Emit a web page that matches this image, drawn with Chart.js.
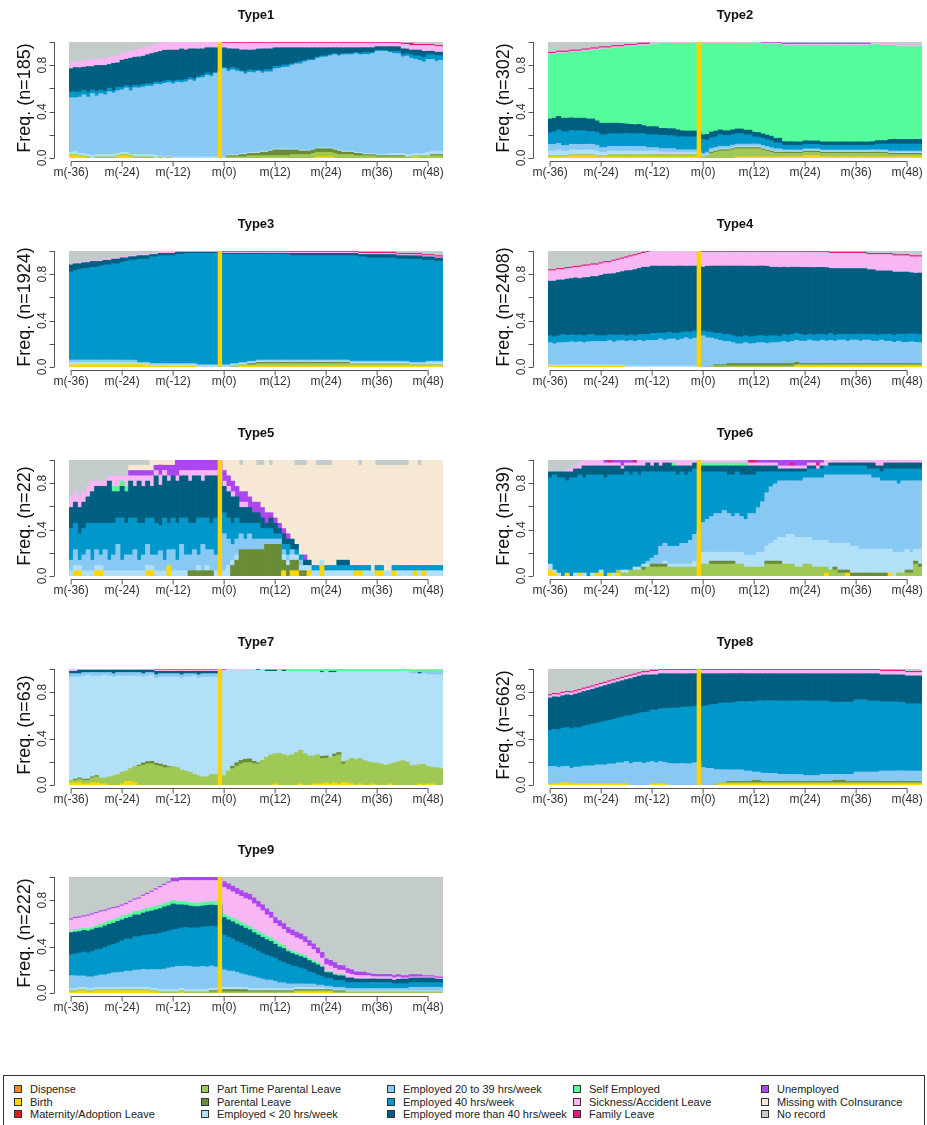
<!DOCTYPE html>
<html>
<head>
<meta charset="utf-8">
<script src="https://cdn.jsdelivr.net/npm/chart.js@4.4.1/dist/chart.umd.min.js"></script>
<style>
  body { margin: 0; background: #fff; width: 927px; height: 1125px; position: relative; overflow: hidden; font-family: "Liberation Sans", Arial, sans-serif; }
  canvas.panel { position: absolute; }
  #legend { position: absolute; left: 3px; top: 1075px; width: 922px; height: 60px; border: 1px solid #333; box-sizing: border-box; }
  .item { position: absolute; font-size: 11px; color: #222; line-height: 12px; white-space: nowrap; }
  .item i { position: absolute; left: -16px; top: 2px; width: 6px; height: 6px; border: 1px solid #333; }
</style>
</head>
<body>
<div id="legend"></div>
<script>
// months on the x axis, m(-36) .. m(51)
const months = [-36,-35,-34,-33,-32,-31,-30,-29,-28,-27,-26,-25,-24,-23,-22,-21,-20,-19,-18,-17,-16,-15,-14,-13,-12,-11,-10,-9,-8,-7,-6,-5,-4,-3,-2,-1,0,1,2,3,4,5,6,7,8,9,10,11,12,13,14,15,16,17,18,19,20,21,22,23,24,25,26,27,28,29,30,31,32,33,34,35,36,37,38,39,40,41,42,43,44,45,46,47,48,49,50,51];
const xTicks = [-36,-24,-12,0,12,24,36,48];
const yTicks = [0,0.2,0.4,0.6,0.8,1];
const yLabels = [0,0.4,0.8];
const markMonth = -1;

const stateKeys = ['dis','bir','mat','ptp','par','e20','e39','e40','e41','self','sick','fam','unemp','miss','norec'];
const stateNames = ['Dispense','Birth','Maternity/Adoption Leave','Part Time Parental Leave','Parental Leave','Employed < 20 hrs/week','Employed 20 to 39 hrs/week','Employed 40 hrs/week','Employed more than 40 hrs/week','Self Employed','Sickness/Accident Leave','Family Leave','Unemployed','Missing with CoInsurance','No record'];
const stateColors = ['#F28A1E','#FFD700','#E31A1C','#9FC855','#6B8C37','#B1E0F8','#88C9F4','#0097CA','#005F80','#55FC9B','#F8B6F5','#E4197C','#AC46EF','#F6E8D5','#C3CBCB'];

// shares (%) per month
// Type1
const t1_bir = [2,2,1,1,0,0,0,0,0,0,0,1, 2,2,1,0,0,0,0,0,0,0,0,0, 0,0,0,0,0,0,0,0,0,0,0,0, 0,0,0,0,0,0,0,0,0,0,0,0, 0,0,0,0,0,0,0,0,0,0,1,1, 1,1,0,0,0,0,0,0,0,0,0,0, 0,0,0,0,0,0,0,0,0,1,0,0, 0,0,0,0];
const t1_ptp = [1,1,1,1,1,0,1,1,1,1,1,1, 1,1,1,1,1,1,1,1,0,1,0,1, 0,0,0,0,0,0,0,0,0,0,0,0, 0,1,1,1,1,1,2,2,2,2,2,2, 2,2,2,2,3,3,3,3,3,4,4,4, 4,4,4,3,3,3,3,2,2,2,2,2, 1,1,1,1,1,1,1,1,1,1,2,2, 2,2,2,2];
const t1_par = [0,0,0,0,0,0,0,0,0,0,0,0, 0,0,0,0,0,0,0,0,0,0,0,0, 0,0,0,0,0,0,0,0,0,0,0,0, 0,1,1,1,2,2,2,2,2,3,3,4, 5,5,5,5,4,4,3,3,3,3,3,3, 3,3,3,3,2,2,2,2,2,1,1,1, 1,1,1,1,1,1,1,0,0,0,0,0, 0,1,1,1];
const t1_e20 = [2,3,2,2,2,2,2,2,2,2,2,2, 2,2,1,2,2,2,2,2,2,1,1,1, 1,1,1,1,1,1,1,1,1,1,1,1, 1,1,1,1,1,1,1,1,1,1,1,1, 1,1,1,1,1,1,1,1,1,1,1,1, 1,1,1,1,1,1,1,1,1,1,1,1, 1,1,1,2,2,2,2,2,2,2,2,2, 3,3,3,3];
const t1_e39 = [47,46,48,51,49,53,50,52,51,53,52,54, 55,56,55,57,58,57,59,59,61,60,62,63, 63,65,64,66,67,66,68,69,71,70,72,73, 76,74,73,72,71,70,69,70,69,68,69,68, 69,70,71,72,73,74,75,76,77,77,77,78, 79,80,82,82,83,84,84,85,85,87,87,87, 89,89,88,88,86,85,85,84,83,82,80,78, 80,79,79,80];
const t1_e40 = [5,5,4,4,4,3,4,3,3,3,2,3, 2,2,3,2,2,2,2,2,2,2,2,2, 2,2,2,2,2,2,1,2,2,2,1,1, 1,2,2,2,1,2,2,2,1,2,2,2, 2,2,2,2,1,1,2,1,1,1,1,1, 1,1,1,1,1,1,1,1,1,2,2,1, 1,1,1,1,2,2,2,2,3,3,4,4, 4,4,5,4];
const t1_e41 = [20,21,21,20,22,20,22,21,22,20,23,21, 24,23,25,24,25,24,25,26,25,26,26,26, 27,26,27,26,25,26,24,23,22,23,21,20, 17,18,16,17,18,19,17,18,18,19,18,18, 16,16,15,15,14,13,12,11,10,10,8,7, 7,6,5,6,5,5,5,4,5,4,4,4, 3,3,3,4,4,4,5,4,4,5,5,5, 3,3,3,3];
const t1_sick = [5,5,5,6,5,6,5,6,6,6,6,6, 6,6,6,6,7,7,7,7,7,7,7,7, 7,7,6,7,6,6,6,6,5,5,5,5, 4,5,5,5,6,6,6,6,5,5,5,5, 4,4,4,4,4,4,4,4,4,4,4,4, 4,4,4,4,4,4,4,4,4,4,4,4, 3,3,3,3,3,3,4,4,4,4,4,5, 5,5,5,5];
const t1_fam = [0,0,0,0,0,0,0,0,0,0,0,0, 0,0,0,0,0,0,0,0,0,0,0,0, 0,0,0,0,0,0,0,0,0,0,0,0, 1,1,1,1,1,1,1,1,1,1,1,1, 1,1,1,1,1,1,1,1,1,1,1,1, 1,1,1,1,1,1,1,1,1,1,1,1, 1,1,1,1,1,1,1,1,2,1,1,1, 1,1,1,1];
const t1_norec = [18,17,17,16,16,15,15,14,14,13,12,12, 10,9,8,7,6,5,4,3,2,1,0,0, 0,0,0,0,0,0,0,0,0,0,0,0, 0,0,0,0,0,0,0,0,0,0,0,0, 0,0,0,0,0,0,0,0,0,0,0,0, 0,0,0,0,0,0,0,0,0,0,0,0, 0,0,0,0,0,0,1,1,1,2,2,2, 2,2,3,3];

// Type2
const t2_bir = [1,1,1,1,1,2,2,2,2,2,2,1, 1,1,1,1,1,1,1,1,1,1,1,1, 1,1,1,1,1,1,1,1,1,1,1,1, 0,0,0,0,0,0,0,0,1,1,1,1, 1,1,1,1,1,1,1,1,1,1,1,1, 2,2,2,2,1,1,1,1,1,1,1,1, 1,1,1,1,1,1,1,1,1,1,1,1, 1,1,1,1];
const t2_ptp = [1,1,1,1,1,1,1,1,1,1,1,1, 1,1,2,2,2,2,2,2,2,2,2,2, 2,2,2,2,2,2,2,2,2,2,2,2, 1,2,4,5,6,6,6,7,7,7,7,7, 7,7,6,5,4,3,3,3,3,3,3,3, 3,3,3,3,3,3,3,3,3,3,3,3, 3,3,3,3,3,3,3,3,2,2,2,2, 2,2,2,2];
const t2_par = [0,0,0,0,0,0,0,0,0,0,0,0, 0,0,0,0,0,0,0,0,0,0,0,0, 0,0,0,0,0,0,0,0,0,0,0,0, 0,0,1,1,1,1,1,1,1,1,1,1, 1,1,1,1,1,1,1,1,1,1,1,1, 1,1,1,1,1,1,1,1,1,1,1,1, 1,1,1,1,1,1,1,1,1,1,1,1, 1,1,1,1];
const t2_e20 = [4,4,5,4,4,4,4,4,4,4,4,4, 3,3,3,3,3,3,3,3,3,3,3,3, 3,3,2,2,2,2,2,2,2,2,2,2, 1,1,1,1,1,1,1,1,1,1,1,1, 1,1,1,1,1,1,1,1,1,1,1,1, 1,1,1,1,1,1,1,1,1,1,1,1, 1,1,1,1,1,1,1,1,1,1,1,1, 1,1,1,1];
const t2_e39 = [6,6,6,5,5,5,5,5,5,5,5,5, 4,4,4,4,4,4,4,4,4,4,4,3, 3,3,3,3,3,3,2,2,2,2,2,2, 2,2,2,2,2,2,2,2,2,2,2,2, 2,2,2,2,2,2,2,1,1,1,1,1, 1,1,1,1,1,1,1,1,1,1,1,1, 1,1,1,1,1,1,1,1,1,1,1,1, 1,1,1,1];
const t2_e40 = [10,11,12,12,12,12,12,12,12,11,11,11, 11,11,11,11,11,11,11,11,11,11,11,11, 11,11,11,11,11,11,11,11,11,11,11,11, 12,10,9,9,10,9,9,9,9,9,8,8, 6,6,6,6,6,5,5,4,4,4,4,4, 4,4,4,4,4,4,4,4,4,4,4,4, 4,4,4,4,4,5,5,5,6,6,6,6, 6,6,6,6];
const t2_e41 = [12,12,12,12,12,11,11,11,11,11,11,10, 10,10,9,9,9,9,8,8,8,8,7,7, 7,7,6,6,6,6,6,5,5,5,5,5, 4,5,5,5,4,4,4,4,4,4,4,4, 4,4,4,4,4,4,4,3,3,3,3,3, 3,3,3,3,3,3,3,3,3,3,3,3, 3,3,3,3,3,3,3,3,4,4,4,4, 4,4,4,4];
const t2_self = [56,56,56,57,57,57,58,58,59,59,60,61, 64,64,64,65,65,66,66,67,68,68,69,70, 71,71,72,72,73,73,74,74,75,75,75,76, 79,77,75,75,74,74,74,74,74,74,75,75, 76,77,78,79,80,81,81,82,83,83,84,84, 83,84,84,84,84,84,84,84,84,84,84,84, 84,84,84,84,83,83,82,82,81,80,80,80, 80,80,80,80];
const t2_sick = [1,1,1,1,1,1,1,1,1,1,1,1, 1,1,1,1,1,1,1,1,1,1,1,1, 1,1,1,1,1,1,1,1,1,1,1,1, 1,1,1,1,1,1,1,1,1,1,1,1, 1,1,1,1,1,1,1,1,1,1,1,1, 1,1,1,1,1,1,1,1,1,1,1,1, 1,1,1,1,1,1,1,1,1,1,1,1, 1,1,1,1];
const t2_fam = [1,1,1,1,1,1,1,1,1,1,1,1, 1,1,1,1,1,1,1,1,1,1,1,1, 0,0,0,0,0,0,0,0,0,0,0,0, 0,0,0,0,0,0,0,0,0,0,0,0, 0,0,0,0,0,0,0,0,0,0,0,0, 0,0,0,0,0,0,0,0,0,0,0,0, 0,0,0,0,0,0,0,0,0,0,0,0, 0,0,0,0];
const t2_unemp = [0,0,0,0,0,0,0,0,0,0,0,0, 0,0,0,0,0,0,0,0,0,0,0,0, 0,0,0,0,0,0,0,0,0,0,0,0, 0,0,0,0,0,0,0,0,0,0,0,0, 0,0,1,1,1,1,1,1,1,1,1,1, 1,1,1,1,1,1,1,1,1,1,1,1, 1,1,1,1,0,0,0,0,0,0,0,0, 0,0,0,0];
const t2_norec = [9,9,8,8,8,7,7,7,6,6,5,5, 4,4,4,3,3,3,2,2,2,1,1,1, 1,1,0,0,0,0,0,0,0,0,0,0, 0,0,0,0,0,0,0,0,0,0,0,0, 0,0,0,0,0,0,0,1,1,1,1,1, 1,1,1,1,1,1,1,1,1,1,1,1, 1,1,1,1,1,1,2,2,2,2,3,3, 3,3,3,3];

// Type3
const t3_bir = [2,2,2,2,2,2,2,2,2,2,2,2, 2,2,2,2,2,2,2,1,1,1,1,1, 1,1,1,1,1,1,0,0,0,0,0,0, 0,0,0,0,1,1,1,1,1,1,1,1, 1,1,1,1,1,1,1,1,1,1,1,1, 1,1,1,1,1,1,1,1,1,1,1,1, 1,1,1,1,1,1,1,1,1,1,1,1, 1,1,1,1];
const t3_ptp = [0,0,0,0,0,0,0,0,0,0,0,0, 0,0,0,0,0,0,0,0,0,0,0,0, 0,0,0,0,0,0,0,0,0,0,0,0, 0,0,1,1,1,1,1,1,2,2,2,2, 2,2,2,2,2,2,2,2,2,2,2,2, 2,2,2,2,2,2,2,2,2,2,2,2, 2,2,2,2,2,2,2,2,1,1,1,1, 1,1,1,1];
const t3_par = [0,0,0,0,0,0,0,0,0,0,0,0, 0,0,0,0,0,0,0,0,0,0,0,0, 0,0,0,0,0,0,0,0,0,0,0,0, 0,0,0,0,0,0,1,1,1,1,1,1, 1,1,1,1,1,1,1,1,1,1,1,1, 1,1,1,1,1,1,0,0,0,0,0,0, 0,0,0,0,0,0,0,0,0,0,0,0, 0,0,0,0];
const t3_e20 = [2,2,2,2,2,2,2,2,2,2,2,2, 2,2,2,2,1,1,1,1,1,1,1,1, 1,1,1,1,1,1,1,1,1,1,1,1, 1,1,1,1,1,1,1,1,1,1,1,1, 1,1,1,1,1,1,1,1,1,1,1,1, 1,1,1,1,1,1,1,1,1,1,1,1, 1,1,1,1,1,1,1,1,1,1,1,1, 2,2,2,2];
const t3_e39 = [2,2,2,2,2,2,2,2,2,2,2,2, 2,2,2,2,1,1,1,1,1,1,1,1, 1,1,1,1,1,1,1,1,1,1,1,1, 1,1,1,1,1,1,1,1,1,1,1,1, 1,1,1,1,1,1,1,1,1,1,1,1, 1,1,1,1,1,1,1,1,1,1,1,1, 1,1,1,1,1,1,1,1,1,1,1,1, 1,1,1,1];
const t3_e40 = [76,77,78,78,79,80,80,81,82,82,83,83, 85,86,87,88,89,89,90,91,91,92,92,93, 93,94,94,94,95,95,95,95,96,95,96,95, 95,95,94,94,93,93,92,92,91,91,90,90, 90,90,90,90,89,89,89,89,89,89,89,89, 89,89,89,89,89,89,89,89,89,89,88,88, 88,88,88,88,88,88,88,88,87,87,87,87, 86,85,85,85];
const t3_e41 = [6,6,5,5,5,5,5,4,4,4,4,4, 4,3,3,3,3,3,3,2,2,2,2,2, 2,2,2,1,1,1,1,1,1,1,1,1, 1,1,1,1,1,1,1,1,1,1,1,1, 1,1,1,1,2,2,2,2,2,2,2,2, 2,2,2,2,2,2,2,2,2,2,3,3, 3,3,3,3,3,3,3,3,3,3,3,3, 3,3,3,3];
const t3_sick = [1,1,1,1,1,1,1,1,1,1,1,1, 1,1,1,1,1,1,1,1,1,1,1,1, 1,1,1,1,1,1,1,1,1,1,1,1, 1,1,1,1,1,1,1,1,1,1,1,1, 1,1,1,1,1,1,1,1,1,1,1,1, 1,1,1,1,1,1,1,1,1,1,1,1, 1,1,1,1,1,1,1,1,1,1,1,1, 1,1,1,1];
const t3_fam = [0,0,0,0,0,0,0,0,0,0,0,0, 0,0,0,0,0,0,0,0,0,0,0,0, 0,0,0,0,0,0,0,0,0,0,0,0, 1,1,1,1,1,1,1,1,1,1,1,1, 1,1,1,1,1,1,1,1,1,1,1,1, 1,1,1,1,1,1,1,1,1,1,1,1, 1,1,1,1,1,1,1,1,1,1,1,1, 1,1,1,1];
const t3_norec = [11,10,10,9,9,8,8,8,7,7,6,6, 5,5,4,4,3,3,3,2,2,1,1,1, 1,0,0,0,0,0,0,0,0,0,0,0, 0,0,0,0,0,0,0,0,0,0,0,0, 0,0,0,0,0,0,0,0,0,0,0,0, 0,0,0,0,0,0,0,0,1,1,1,1, 1,1,1,1,1,2,2,2,2,2,2,3, 3,3,4,4];

// Type4
const t4_bir = [1,1,1,1,1,1,1,1,1,1,1,1, 1,1,1,1,1,1,0,0,0,0,0,0, 0,0,0,0,0,0,0,0,0,0,0,0, 0,0,0,0,0,0,0,0,0,0,0,0, 0,0,0,0,0,0,0,0,0,0,1,1, 1,1,1,1,1,1,1,1,1,1,1,1, 1,1,1,1,1,1,1,1,1,1,1,1, 1,1,1,1];
const t4_ptp = [0,0,0,0,0,0,0,0,0,0,0,0, 0,0,0,0,0,0,0,0,0,0,0,0, 0,0,0,0,0,0,0,0,0,0,0,0, 0,0,1,1,1,1,1,1,1,1,1,1, 1,1,1,1,1,1,1,1,1,1,1,1, 1,1,1,1,1,1,1,1,1,1,1,1, 1,1,1,1,1,1,1,1,1,1,1,1, 1,1,1,1];
const t4_par = [0,0,0,0,0,0,0,0,0,0,0,0, 0,0,0,0,0,0,0,0,0,0,0,0, 0,0,0,0,0,0,0,0,0,0,0,0, 0,0,0,1,1,1,2,2,2,2,2,2, 2,2,2,2,2,2,2,2,2,2,2,1, 1,1,1,1,1,1,1,1,1,1,1,1, 1,1,1,1,1,1,1,1,1,1,1,1, 1,1,1,1];
const t4_e20 = [1,1,1,1,1,1,1,1,1,1,1,1, 1,1,1,1,1,1,1,1,1,1,1,1, 1,1,1,1,1,1,1,1,1,1,1,1, 0,0,0,0,0,0,0,0,0,0,0,0, 0,0,0,0,0,0,0,0,0,0,0,0, 0,0,0,0,0,0,0,0,0,0,0,0, 0,0,0,0,0,0,0,0,0,0,0,0, 0,0,0,0];
const t4_e39 = [19,18,19,19,19,20,19,20,19,20,20,20, 20,20,21,20,21,21,21,22,21,22,21,22, 22,22,23,22,23,23,22,23,24,23,24,24, 27,25,24,22,21,20,19,18,17,17,18,17, 17,18,18,17,18,18,18,19,18,19,19,19, 19,20,19,19,20,19,20,19,20,20,19,20, 20,19,20,20,19,19,20,19,19,18,19,18, 18,19,18,18];
const t4_e40 = [6,6,6,7,6,6,6,6,6,6,6,5, 5,5,5,6,5,5,5,5,5,5,6,5, 6,6,5,6,6,5,6,6,5,6,6,6, 4,5,5,5,6,6,6,6,6,6,6,6, 6,6,6,6,6,6,5,6,6,6,6,6, 5,5,5,6,5,5,6,5,5,5,6,5, 5,6,5,5,6,5,5,6,6,6,6,7, 7,7,7,7];
const t4_e41 = [47,48,48,47,48,49,49,49,50,50,50,51, 52,53,53,54,55,55,56,56,57,57,58,58, 58,58,57,58,57,57,58,57,56,57,56,56, 55,56,57,58,58,59,59,60,61,61,60,61, 60,60,60,60,59,59,59,58,58,58,57,57, 58,57,57,57,57,57,56,57,56,56,56,56, 56,56,56,55,55,55,54,54,54,54,53,53, 53,53,52,53];
const t4_sick = [9,9,9,9,9,9,9,10,10,10,10,10, 10,10,10,11,11,11,11,12,12,12,12,13, 13,13,13,13,13,13,13,13,13,13,13,13, 13,12,12,12,12,12,12,12,12,12,12,12, 12,12,12,12,13,13,13,13,13,13,13,13, 13,13,13,13,13,13,13,13,13,13,13,13, 13,13,13,13,13,14,14,14,14,14,14,14, 14,14,14,14];
const t4_fam = [1,1,1,1,1,1,1,1,1,1,1,1, 1,1,1,1,1,1,1,1,1,1,1,1, 0,0,0,0,0,0,0,0,0,0,0,0, 1,1,1,1,1,1,1,1,1,1,1,1, 1,1,1,1,1,1,1,1,1,1,1,1, 1,1,1,1,1,1,1,1,1,1,1,1, 1,1,1,1,1,1,1,1,1,1,1,1, 1,1,1,1];
const t4_norec = [16,16,15,15,14,14,13,13,12,12,11,11, 10,9,9,8,7,6,5,4,3,2,1,0, 0,0,0,0,0,0,0,0,0,0,0,0, 0,0,0,0,0,0,0,0,0,0,0,0, 0,0,0,0,0,0,0,0,0,0,0,0, 0,0,0,0,0,0,1,1,1,1,1,1, 1,1,1,2,2,2,2,2,2,3,3,3, 3,4,4,4];

// Type5 (counts out of 22)
const t5_bir = [0,1,1,0,0,0,1,1,0,0,0,0, 0,0,0,0,0,0,1,1,0,0,0,2, 0,0,0,0,0,0,0,0,0,0,0,0, 0,0,0,0,0,0,0,0,0,0,0,0, 0,0,1,0,1,1,0,0,1,0,0,2, 0,0,0,0,0,0,0,1,1,0,0,0, 1,1,0,0,1,0,0,0,0,1,0,1, 0,0,0,0];
const t5_par = [0,0,0,0,0,0,0,0,0,0,0,0, 0,0,0,0,0,0,0,0,0,0,0,0, 0,0,0,0,1,1,1,1,1,1,0,0, 0,0,2,3,5,5,5,5,5,5,6,6, 6,6,2,2,2,2,1,1,0,0,0,0, 0,0,0,0,0,0,0,0,0,0,0,0, 0,0,0,0,0,0,0,0,0,0,0,0, 0,0,0,0];
const t5_e20 = [1,1,1,1,1,1,1,1,1,1,1,1, 1,1,1,1,1,1,1,1,1,1,1,0, 1,1,1,1,0,0,1,0,1,0,1,1, 1,2,1,1,0,0,0,0,0,0,0,0, 0,0,1,1,1,1,1,1,1,1,1,1, 1,1,1,1,1,1,1,0,0,1,1,1, 0,0,1,1,0,1,1,1,1,0,1,0, 1,1,1,1];
const t5_e39 = [2,3,1,3,4,2,3,2,4,2,3,5, 2,3,3,4,2,3,4,2,3,4,2,3, 4,2,5,3,3,4,2,5,3,4,3,2, 7,5,3,3,3,2,3,2,2,2,1,1, 1,1,1,1,1,0,1,0,0,0,0,0, 0,0,0,0,0,0,0,0,0,0,0,0, 0,0,0,0,0,0,0,0,0,0,0,0, 0,0,0,0];
const t5_e40 = [6,5,5,5,5,7,5,6,5,7,6,5, 8,6,7,6,7,6,5,7,6,5,8,5, 6,7,5,7,6,5,7,5,6,5,7,6, 4,4,4,4,2,3,2,3,3,2,2,2, 1,1,1,2,0,1,1,0,0,1,1,0, 1,1,1,1,1,1,1,1,1,1,1,0, 1,1,0,0,1,1,1,1,1,1,1,1, 1,1,1,1];
const t5_e41 = [4,4,5,5,5,6,7,7,7,8,6,5, 6,6,7,6,8,7,7,6,9,8,8,8, 8,8,8,8,8,9,8,7,8,9,8,9, 5,5,5,4,3,3,3,2,2,2,1,2, 2,1,2,1,2,1,0,1,1,0,0,0, 0,0,0,1,1,1,0,0,0,0,0,0, 0,0,0,0,0,0,0,0,0,0,0,0, 0,0,0,0];
const t5_self = [0,0,0,0,0,0,0,0,0,0,1,1, 1,1,0,0,0,0,0,0,0,0,0,0, 0,0,0,0,0,0,0,0,0,0,0,0, 0,0,0,0,0,0,0,0,0,0,0,0, 0,0,0,0,0,0,0,0,0,0,0,0, 0,0,0,0,0,0,0,0,0,0,0,0, 0,0,0,0,0,0,0,0,0,0,0,0, 0,0,0,0];
const t5_sick = [2,2,2,2,2,2,1,1,1,1,2,2, 1,2,1,2,1,2,1,2,1,2,1,1, 0,1,1,1,2,1,1,2,1,1,1,2, 1,1,1,0,1,1,0,0,0,0,0,0, 0,0,0,0,0,0,0,0,0,0,0,0, 0,0,0,0,0,0,0,0,0,0,0,0, 0,0,0,0,0,0,0,0,0,0,0,0, 0,0,0,0];
const t5_unemp = [0,0,0,0,0,0,0,0,0,0,0,0, 0,0,1,1,1,1,1,1,1,2,1,2, 2,3,2,2,2,2,2,2,2,2,2,2, 2,2,2,2,2,2,2,2,2,2,2,1, 1,1,1,1,0,0,0,1,0,0,0,0, 0,0,0,0,0,0,0,0,0,0,0,0, 0,0,0,0,0,0,0,0,0,0,0,0, 0,0,0,0];
const t5_miss = [0,0,0,0,0,0,0,0,0,0,0,0, 0,0,1,1,1,1,1,2,1,1,1,1, 1,0,0,0,0,0,0,0,0,0,0,0, 2,3,4,5,5,6,7,8,7,8,10,9, 11,12,13,14,15,15,17,17,19,20,19,18, 19,19,20,19,19,19,20,20,19,20,20,21, 19,19,20,20,19,19,19,19,20,20,19,20, 20,20,20,20];
const t5_norec = [7,6,7,6,5,4,4,4,4,3,3,3, 3,3,1,1,1,1,1,0,0,0,0,0, 0,0,0,0,0,0,0,0,0,0,0,0, 0,0,0,0,1,0,0,0,1,1,0,1, 0,0,0,0,0,1,1,1,0,0,1,1, 1,1,0,0,0,0,0,0,1,0,0,0, 1,1,1,1,1,1,1,1,0,0,1,0, 0,0,0,0];

// Type6 (counts out of 39)
const t6_bir = [2,1,0,0,1,0,0,1,0,0,0,1, 1,0,1,0,1,0,0,0,0,0,0,0, 0,0,0,0,0,0,0,0,0,0,0,0, 0,0,0,0,0,0,0,0,0,0,0,0, 0,0,0,0,0,0,0,0,0,0,0,0, 0,0,0,0,0,1,0,0,0,0,1,0, 0,0,0,0,0,0,0,0,1,0,0,0, 0,0,0,0];
const t6_ptp = [0,0,0,0,0,0,0,0,0,0,0,0, 0,0,0,0,1,1,1,2,2,2,2,3, 3,3,3,3,3,3,3,3,3,3,3,3, 4,4,4,4,4,4,4,4,4,4,3,3, 3,3,3,4,4,4,4,4,4,4,3,3, 4,4,3,3,3,2,2,2,1,1,0,0, 0,0,0,0,0,0,0,0,0,0,1,1, 1,1,4,3];
const t6_par = [0,0,0,0,0,0,0,0,0,0,0,0, 0,0,0,0,0,0,0,0,0,0,1,0, 1,1,1,1,0,0,0,0,0,0,0,0, 0,0,1,1,1,1,1,1,0,0,0,0, 0,0,0,1,1,1,1,0,0,0,0,0, 0,0,0,0,0,0,0,1,1,1,1,1, 1,1,1,1,1,1,1,1,0,0,0,0, 1,1,1,1];
const t6_e20 = [2,1,1,0,0,0,1,0,1,0,1,0, 1,0,0,1,0,1,1,0,1,1,1,1, 0,0,0,1,1,1,1,1,1,1,2,2, 4,4,3,3,3,3,3,3,4,4,4,4, 4,5,5,5,6,7,8,9,10,10,10,10, 9,9,9,9,9,9,9,8,9,9,9,9, 9,8,8,8,8,8,8,8,8,8,7,7, 7,6,4,5];
const t6_e39 = [0,0,0,0,0,0,0,0,0,0,0,0, 0,0,0,0,0,0,0,0,0,0,0,1, 2,3,6,6,6,6,6,7,7,8,9,10, 10,11,12,13,13,14,13,12,13,12,12,14, 14,15,17,18,19,19,19,19,18,18,19,19, 20,20,21,21,21,22,23,23,23,23,23,24, 24,25,25,25,24,24,23,23,23,24,23,24, 23,24,23,23];
const t6_e40 = [29,32,32,33,31,33,32,33,32,34,33,33, 32,33,33,33,32,32,33,32,32,31,31,30, 29,28,25,24,25,25,24,24,23,23,22,20, 17,16,15,14,14,13,13,14,14,14,15,13, 13,12,10,7,5,4,3,3,3,3,3,3, 2,3,3,3,3,3,3,3,3,3,3,3, 3,3,3,2,3,3,3,4,4,4,5,4, 4,4,4,4];
const t6_e41 = [2,1,2,2,3,2,3,2,4,3,3,3, 3,4,3,3,3,2,2,3,2,3,2,3, 2,3,2,3,3,2,3,2,3,2,2,2, 2,2,2,2,2,2,3,3,2,3,3,3, 3,2,2,2,2,2,1,1,1,1,1,1, 1,1,1,0,1,0,1,1,1,1,1,1, 1,1,1,2,2,1,2,2,2,2,2,2, 2,2,2,2];
const t6_self = [0,0,0,0,0,0,0,0,0,0,0,0, 0,0,0,0,0,0,0,0,0,0,0,0, 0,0,0,0,0,1,0,0,0,0,0,0, 1,1,1,1,1,1,1,1,1,1,1,0, 0,0,0,0,0,0,0,0,0,0,0,0, 0,0,0,0,0,0,0,0,0,0,0,0, 0,0,0,0,0,0,0,0,0,0,0,0, 0,0,0,0];
const t6_sick = [0,0,0,0,1,1,1,2,2,2,2,2, 2,1,1,1,1,1,1,1,1,2,2,1, 2,1,2,1,1,1,2,2,2,2,1,2, 1,1,1,1,1,1,1,1,1,1,1,1, 1,1,1,1,1,1,1,1,1,1,1,1, 1,1,1,1,1,2,1,1,1,1,1,1, 1,1,1,1,1,2,2,1,1,1,1,1, 1,1,1,1];
const t6_fam = [0,0,0,0,0,0,0,0,0,0,0,0, 0,0,1,0,0,0,0,0,1,0,0,0, 0,0,0,0,0,0,0,0,0,0,0,0, 0,0,0,0,0,0,0,0,0,0,0,1, 1,0,0,0,0,0,0,0,0,1,0,0, 0,0,0,1,0,0,0,0,0,0,0,0, 0,0,0,0,0,0,0,0,0,0,0,0, 0,0,0,0];
const t6_unemp = [0,0,0,0,0,0,0,0,0,0,0,0, 0,1,0,1,1,2,1,1,0,0,0,0, 0,0,0,0,0,0,0,0,0,0,0,0, 0,0,0,0,0,0,0,0,0,0,0,0, 0,1,1,1,1,1,2,2,2,1,2,2, 2,1,1,1,1,0,0,0,0,0,0,0, 0,0,0,0,0,0,0,0,0,0,0,0, 0,0,0,0];
const t6_norec = [4,4,4,4,3,3,2,1,0,0,0,0, 0,0,0,0,0,0,0,0,0,0,0,0, 0,0,0,0,0,0,0,0,0,0,0,0, 0,0,0,0,0,0,0,0,0,0,0,0, 0,0,0,0,0,0,0,0,0,0,0,0, 0,0,0,0,0,0,0,0,0,0,0,0, 0,0,0,0,0,0,0,0,0,0,0,0, 0,0,0,0];

// Type7
const t7_bir = [2,2,2,1,1,2,2,1,1,0,0,0, 1,3,3,2,0,0,0,0,0,0,0,0, 0,0,0,0,0,0,0,0,0,0,0,0, 0,0,0,0,0,0,0,0,0,0,0,0, 1,0,0,0,0,0,1,0,0,1,1,1, 2,1,2,1,2,2,1,0,1,0,0,1, 0,0,0,1,0,0,0,0,0,0,1,0, 1,1,0,0];
const t7_ptp = [2,2,3,3,3,4,5,5,5,7,8,9, 10,9,11,14,16,17,18,18,17,16,15,15, 16,15,13,12,11,9,8,7,7,9,9,9, 8,12,14,16,18,19,19,18,18,21,24,26, 26,27,26,25,26,28,29,27,25,24,25,22, 21,23,23,25,16,19,22,22,22,21,20,18, 19,18,17,17,19,20,21,20,17,17,17,18, 15,14,15,14];
const t7_par = [0,1,1,1,1,1,1,0,0,0,0,0, 0,0,0,0,1,2,2,2,2,2,2,1, 0,0,0,0,0,0,0,0,0,0,0,0, 0,0,2,3,3,3,3,2,1,0,0,0, 0,0,0,0,0,0,0,0,0,0,0,2, 2,0,2,2,2,0,0,0,0,0,0,0, 0,0,0,0,0,0,0,0,0,0,0,0, 0,0,0,0];
const t7_e20 = [89,88,87,88,88,86,85,87,87,86,85,84, 82,81,79,77,76,74,73,73,74,75,76,77, 77,78,80,81,82,84,85,86,86,84,84,84, 90,86,82,79,77,76,76,78,79,77,74,72, 71,71,72,73,72,70,68,71,73,73,72,73, 73,74,71,70,78,77,75,76,75,77,78,79, 79,80,81,80,79,78,77,78,80,80,79,79, 79,80,80,81];
const t7_e39 = [3,3,3,3,2,3,3,3,2,3,3,3, 3,3,3,3,3,3,3,2,3,3,3,3, 3,3,3,3,3,2,3,3,3,3,3,3, 0,0,0,0,0,0,0,0,0,0,0,0, 0,0,0,0,0,0,0,0,0,0,0,0, 0,0,0,0,0,0,0,0,0,0,0,0, 0,0,0,0,0,0,0,0,1,1,1,1, 2,2,2,2];
const t7_e41 = [2,2,3,2,2,2,2,2,2,2,3,2, 2,2,2,2,2,3,2,2,3,2,2,2, 2,2,3,2,2,2,3,2,2,2,2,2, 0,0,0,0,0,0,0,0,1,0,1,1, 1,0,1,0,0,0,0,0,0,0,0,1, 0,1,1,0,0,0,0,0,0,0,0,0, 0,0,0,0,0,0,0,0,0,0,1,0, 0,0,0,0];
const t7_self = [0,0,0,0,0,0,0,0,0,0,0,0, 0,0,0,0,0,0,0,0,0,0,0,0, 0,0,0,0,0,0,0,0,0,0,0,0, 0,0,0,0,0,0,0,0,0,0,1,1, 1,1,1,2,2,2,2,2,2,2,2,2, 2,2,2,2,2,2,2,2,2,2,2,2, 2,2,2,2,2,2,2,2,2,2,2,2, 2,2,2,2];
const t7_sick = [2,2,1,1,1,1,1,1,1,1,1,1, 1,1,1,1,1,1,1,1,1,1,1,1, 1,1,1,1,1,1,1,1,1,1,1,1, 1,1,1,1,1,1,0,0,0,0,0,0, 0,0,0,0,0,0,0,0,0,0,0,0, 0,0,0,0,0,0,0,0,0,0,0,0, 0,0,0,0,0,0,0,0,0,0,0,0, 0,0,0,0];
const t7_unemp = [0,0,0,0,0,0,0,0,0,0,0,0, 0,0,0,0,0,0,0,0,1,1,1,1, 1,1,1,1,1,1,1,1,1,1,1,1, 1,0,0,0,0,0,0,0,0,0,0,0, 0,0,0,0,0,0,0,0,0,0,0,0, 0,0,0,0,0,0,0,0,0,0,0,0, 0,0,0,0,0,0,0,0,0,0,0,0, 0,0,0,0];
const t7_norec = [0,0,0,0,0,0,0,0,0,0,0,0, 0,0,0,0,0,0,0,0,0,0,0,0, 0,0,0,0,0,0,0,0,0,0,0,0, 0,0,0,0,0,0,0,0,0,0,0,0, 0,0,0,0,0,0,0,0,0,0,0,0, 0,0,0,0,0,0,0,0,0,0,0,0, 0,0,0,0,0,0,0,0,1,1,1,1, 1,1,1,1];

// Type8
const t8_bir = [1,1,1,2,2,1,1,1,1,1,1,1, 1,1,1,1,1,1,1,0,0,0,0,0, 1,1,1,1,0,0,0,0,0,0,0,0, 0,0,0,0,1,1,1,1,1,1,1,1, 1,1,1,1,1,1,1,1,1,1,1,1, 1,1,1,1,1,1,1,1,1,1,1,1, 1,1,1,1,1,1,1,1,1,1,1,1, 1,1,1,1];
const t8_ptp = [0,0,0,0,0,0,0,0,0,0,0,0, 0,0,0,0,0,0,0,0,0,0,0,0, 0,0,0,0,0,0,0,0,0,0,0,0, 0,0,0,1,1,1,1,1,1,1,1,1, 1,1,1,1,1,1,1,1,1,1,1,1, 1,1,1,1,1,1,1,1,1,1,1,1, 1,1,1,1,1,1,1,1,1,1,1,1, 1,1,1,1];
const t8_par = [0,0,0,0,0,0,0,0,0,0,0,0, 0,0,0,0,0,0,0,0,0,0,0,0, 0,0,0,0,0,0,0,0,0,0,0,0, 0,0,0,0,0,0,1,1,1,1,1,1, 2,2,1,1,1,1,1,1,1,1,1,1, 1,1,1,1,1,1,1,2,2,2,1,1, 1,1,1,1,1,1,1,1,1,1,1,1, 1,1,1,1];
const t8_e39 = [15,15,14,14,14,13,14,14,15,15,15,16, 16,16,17,17,18,18,19,18,19,19,18,19, 19,18,19,18,18,18,18,18,18,18,19,19, 15,14,14,12,11,11,10,10,10,10,9,9, 7,7,7,7,7,7,6,6,6,6,6,6, 5,5,5,5,6,6,6,5,5,5,6,6, 8,8,8,8,8,8,9,9,9,9,9,9, 9,9,9,9];
const t8_e40 = [31,32,32,33,33,33,33,33,34,34,35,35, 36,37,37,38,38,39,39,40,40,41,42,42, 44,45,45,46,46,47,47,47,48,48,48,49, 52,53,54,55,56,57,57,58,58,59,59,60, 60,61,61,62,62,62,62,62,62,62,62,63, 63,63,63,63,62,62,61,61,61,61,61,61, 61,61,61,60,60,60,59,59,59,59,58,58, 58,58,58,58];
const t8_e41 = [28,28,28,28,28,28,28,29,29,29,29,30, 30,30,31,31,31,31,31,31,31,31,31,31, 30,30,30,29,29,29,29,28,28,28,28,27, 28,27,26,26,25,25,25,25,24,24,24,24, 24,23,23,23,23,23,23,23,23,23,23,23, 23,23,23,23,23,23,24,24,24,24,24,24, 22,22,22,23,23,23,23,23,23,23,23,23, 24,24,24,24];
const t8_sick = [2,2,2,2,2,2,2,2,2,2,2,2, 2,2,2,2,2,2,2,2,2,2,2,2, 3,3,3,3,3,3,3,3,3,3,3,3, 3,3,3,3,3,3,3,3,3,3,3,3, 3,3,3,3,3,3,3,3,3,3,3,3, 3,3,3,3,3,3,3,3,3,3,3,3, 3,3,3,3,3,3,3,3,3,3,3,3, 3,3,3,3];
const t8_fam = [1,1,1,1,1,1,1,1,1,1,1,1, 1,1,1,1,1,1,1,1,1,1,1,1, 1,1,1,1,1,1,1,1,1,1,1,1, 1,1,1,1,1,1,1,1,1,1,1,1, 1,1,1,1,1,1,1,1,1,1,1,1, 1,1,1,1,1,1,1,1,1,1,1,1, 1,1,1,1,1,1,1,1,1,1,1,1, 1,1,1,1];
const t8_norec = [22,21,21,20,19,19,18,17,16,15,14,13, 12,11,10,9,8,7,6,5,4,3,2,2, 1,1,0,0,0,0,0,0,0,0,0,0, 0,0,0,0,0,0,0,0,0,0,0,0, 0,0,0,0,0,0,0,0,0,0,0,0, 0,0,0,0,0,0,0,0,0,0,0,0, 0,0,0,0,0,0,1,1,1,1,1,1, 2,2,2,2];

// Type9
const t9_bir = [1,1,2,2,1,1,2,2,2,2,2,2, 2,2,2,2,2,2,2,1,1,0,0,0, 0,0,1,0,0,0,0,0,0,0,0,0, 0,0,0,0,0,0,0,0,0,0,0,0, 0,0,0,0,0,1,1,1,1,1,1,1, 1,1,0,0,0,0,0,0,0,0,0,0, 0,0,0,0,0,0,0,0,0,0,0,0, 0,0,0,0];
const t9_ptp = [1,1,1,1,1,1,1,1,1,1,1,1, 1,1,1,1,1,1,1,1,1,1,1,1, 1,1,1,1,1,1,1,1,1,1,1,1, 1,1,1,1,1,1,1,1,1,1,1,1, 1,1,1,1,1,1,1,1,1,1,1,1, 1,1,1,1,1,1,1,1,1,1,1,1, 1,1,1,1,1,1,1,1,1,1,1,1, 1,1,1,1];
const t9_par = [0,0,0,0,0,0,0,0,0,0,0,0, 0,0,0,0,0,0,0,0,0,0,0,0, 0,0,0,0,0,0,0,0,0,1,1,1, 2,2,2,2,2,2,1,1,1,1,1,1, 1,1,1,1,1,1,1,1,1,1,1,1, 1,1,1,1,1,0,0,0,0,0,0,0, 0,0,0,0,0,0,0,0,0,0,0,0, 0,0,0,0];
const t9_e20 = [2,2,2,2,2,2,2,2,2,2,2,2, 2,2,2,2,2,2,2,2,2,2,2,2, 2,2,2,2,2,2,2,2,2,2,2,2, 2,2,2,2,2,2,2,2,2,2,2,2, 2,2,2,2,2,2,2,2,2,2,2,2, 1,1,1,1,1,1,1,1,1,1,1,1, 1,1,1,1,1,1,1,1,1,1,1,1, 1,1,1,1];
const t9_e39 = [11,11,10,10,10,10,10,11,11,12,13,13, 13,14,14,15,15,16,15,16,16,17,17,18, 19,20,19,20,20,19,19,20,19,19,18,18, 15,14,14,13,12,11,11,10,9,8,7,7, 6,5,5,4,4,3,3,3,3,3,2,2, 2,2,2,2,2,2,2,2,2,2,2,2, 2,2,2,2,2,2,2,2,3,3,3,3, 3,3,3,3];
const t9_e40 = [18,19,20,21,21,22,23,23,24,25,25,26, 27,28,28,29,29,30,30,30,30,31,31,31, 32,32,33,33,33,33,33,34,34,34,34,35, 30,29,28,27,27,26,25,24,23,22,21,20, 20,19,18,17,16,15,14,13,11,10,9,8, 7,7,6,6,6,5,5,5,5,5,5,5, 5,5,5,5,4,4,4,4,4,4,4,4, 4,4,4,4];
const t9_e41 = [19,19,19,19,19,19,19,19,19,19,19,19, 18,18,19,19,19,20,20,20,21,21,21,21, 22,21,20,19,19,18,18,18,18,18,18,18, 15,15,15,15,15,15,15,14,14,14,13,13, 12,12,12,11,11,10,10,10,10,9,9,8, 5,5,5,4,4,4,4,3,3,3,3,3, 3,3,3,3,3,4,4,4,4,4,4,4, 4,4,3,3];
const t9_self = [1,2,2,2,2,2,2,3,3,3,3,3, 3,3,3,3,3,3,3,3,3,3,3,3, 3,3,3,3,3,3,3,3,3,3,3,3, 3,3,3,3,3,3,3,3,3,3,3,3, 3,3,3,2,2,2,2,2,2,2,2,1, 1,1,1,1,1,0,0,0,0,0,0,0, 0,0,0,0,0,0,0,0,0,0,0,0, 0,0,0,0];
const t9_sick = [10,10,10,10,11,11,11,11,10,10,10,9, 9,9,10,10,11,12,12,13,14,15,15,16, 16,17,18,18,19,19,19,19,18,18,18,18, 23,23,23,23,23,23,23,22,21,20,18,17, 15,15,14,14,14,13,13,12,11,10,8,7, 6,5,5,4,4,4,3,3,3,3,3,2, 2,2,2,2,2,2,1,1,1,1,1,1, 1,1,1,1];
const t9_unemp = [1,1,1,1,1,1,1,1,1,1,1,1, 1,1,1,1,1,1,1,1,1,1,1,1, 3,3,3,3,3,3,3,3,3,3,3,3, 5,5,5,5,5,5,5,5,5,5,5,5, 5,5,5,5,5,5,5,5,5,5,5,5, 5,5,5,4,4,4,4,3,3,3,2,2, 2,2,2,2,2,2,2,2,2,2,2,1, 1,1,1,1];
const t9_norec = [36,35,35,34,33,32,31,30,29,28,27,26, 24,23,21,19,18,16,14,12,10,8,6,4, 1,1,0,0,0,0,0,0,0,0,0,0, 4,6,8,10,12,14,15,18,21,24,27,30, 35,38,41,44,47,48,50,53,57,60,63,67, 72,74,76,77,78,79,80,81,82,82,83,83, 84,84,84,84,85,85,85,85,85,85,85,85, 86,86,86,87];

// panel table built from the arrays above
const panels = [
  { title: 'Type1', n: 185, series: { bir: t1_bir, ptp: t1_ptp, par: t1_par, e20: t1_e20, e39: t1_e39, e40: t1_e40, e41: t1_e41, sick: t1_sick, fam: t1_fam, norec: t1_norec } },
  { title: 'Type2', n: 302, series: { bir: t2_bir, ptp: t2_ptp, par: t2_par, e20: t2_e20, e39: t2_e39, e40: t2_e40, e41: t2_e41, self: t2_self, sick: t2_sick, fam: t2_fam, unemp: t2_unemp, norec: t2_norec } },
  { title: 'Type3', n: 1924, series: { bir: t3_bir, ptp: t3_ptp, par: t3_par, e20: t3_e20, e39: t3_e39, e40: t3_e40, e41: t3_e41, sick: t3_sick, fam: t3_fam, norec: t3_norec } },
  { title: 'Type4', n: 2408, series: { bir: t4_bir, ptp: t4_ptp, par: t4_par, e20: t4_e20, e39: t4_e39, e40: t4_e40, e41: t4_e41, sick: t4_sick, fam: t4_fam, norec: t4_norec } },
  { title: 'Type5', n: 22, series: { bir: t5_bir, par: t5_par, e20: t5_e20, e39: t5_e39, e40: t5_e40, e41: t5_e41, self: t5_self, sick: t5_sick, unemp: t5_unemp, miss: t5_miss, norec: t5_norec } },
  { title: 'Type6', n: 39, series: { bir: t6_bir, ptp: t6_ptp, par: t6_par, e20: t6_e20, e39: t6_e39, e40: t6_e40, e41: t6_e41, self: t6_self, sick: t6_sick, fam: t6_fam, unemp: t6_unemp, norec: t6_norec } },
  { title: 'Type7', n: 63, series: { bir: t7_bir, ptp: t7_ptp, par: t7_par, e20: t7_e20, e39: t7_e39, e41: t7_e41, self: t7_self, sick: t7_sick, unemp: t7_unemp, norec: t7_norec } },
  { title: 'Type8', n: 662, series: { bir: t8_bir, ptp: t8_ptp, par: t8_par, e39: t8_e39, e40: t8_e40, e41: t8_e41, sick: t8_sick, fam: t8_fam, norec: t8_norec } },
  { title: 'Type9', n: 222, series: { bir: t9_bir, ptp: t9_ptp, par: t9_par, e20: t9_e20, e39: t9_e39, e40: t9_e40, e41: t9_e41, self: t9_self, sick: t9_sick, unemp: t9_unemp, norec: t9_norec } }
];

const FONT = '"Liberation Sans", Arial, sans-serif';
const rowTops = [0, 209, 418, 627, 835];
const markColor = '#FFD300';

// R-like axes, titles and the m(-1) marker, drawn from the chart's own scales
const rStyle = {
  id: 'rStyle',
  afterDatasetsDraw(chart) {
    const { ctx, chartArea: a, scales: { x } } = chart;
    const cx = x.getPixelForValue(months.indexOf(markMonth));
    ctx.save();
    ctx.fillStyle = markColor;
    ctx.fillRect(cx - 2.2, a.top, 4.4, a.bottom - a.top);
    ctx.restore();
  },
  afterDraw(chart, args, opts) {
    const { ctx, chartArea: a, scales: { x, y } } = chart;
    ctx.save();
    ctx.strokeStyle = '#555';
    ctx.lineWidth = 1;
    ctx.beginPath();
    // y axis
    const ax = a.left - 14.5;
    ctx.moveTo(ax, y.getPixelForValue(0));
    ctx.lineTo(ax, y.getPixelForValue(1));
    yTicks.forEach(v => {
      const py = Math.round(y.getPixelForValue(v)) + 0.5;
      ctx.moveTo(ax, py);
      ctx.lineTo(ax - 5, py);
    });
    // x axis
    const ay = Math.round(a.bottom + 3) + 0.5;
    const xs = xTicks.map(m => x.getPixelForValue(months.indexOf(m)));
    ctx.moveTo(xs[0], ay);
    ctx.lineTo(xs[xs.length - 1], ay);
    xs.forEach(px => {
      ctx.moveTo(px, ay);
      ctx.lineTo(px, ay + 5);
    });
    ctx.stroke();

    ctx.fillStyle = '#333';
    ctx.font = '12px ' + FONT;
    ctx.textAlign = 'center';
    ctx.textBaseline = 'middle';
    xTicks.forEach((m, k) => ctx.fillText('m(' + m + ')', xs[k], a.bottom + 14.5));
    yLabels.forEach(v => {
      ctx.save();
      ctx.translate(ax - 12, y.getPixelForValue(v));
      ctx.rotate(-Math.PI / 2);
      ctx.fillText(v.toFixed(1), 0, 0);
      ctx.restore();
    });

    // y title
    ctx.fillStyle = '#111';
    ctx.font = '18px ' + FONT;
    ctx.save();
    ctx.translate(a.left - 44, (a.top + a.bottom) / 2 - 2);
    ctx.rotate(-Math.PI / 2);
    ctx.fillText('Freq. (n=' + opts.n + ')', 0, 0);
    ctx.restore();

    // panel title
    ctx.font = 'bold 13px ' + FONT;
    ctx.fillText(opts.title, (a.left + a.right) / 2, a.top - 27);
    ctx.restore();
  }
};

// length check while building
const bad = [];
panels.forEach(p => Object.entries(p.series).forEach(([k, arr]) => {
  if (arr.length !== months.length) bad.push(p.title + ':' + k + '=' + arr.length);
}));
if (bad.length) {
  const d = document.createElement('div');
  d.style.cssText = 'position:absolute;left:480px;top:860px;width:440px;color:red;font-size:12px;';
  d.textContent = bad.join(' ');
  document.body.appendChild(d);
}

panels.forEach((p, k) => {
  const totals = months.map((m, i) => Object.values(p.series).reduce((s, arr) => s + (arr[i] || 0), 0));
  const datasets = [];
  stateKeys.forEach((key, s) => {
    const arr = p.series[key];
    if (!arr) return;
    datasets.push({
      label: stateNames[s],
      data: arr.map((v, i) => v ? v / totals[i] : null),
      backgroundColor: stateColors[s],
      borderWidth: 0,
      barPercentage: 1,
      categoryPercentage: 1,
      inflateAmount: 0.35
    });
  });

  const cv = document.createElement('canvas');
  cv.className = 'panel';
  cv.width = 448;
  cv.height = 205;
  cv.style.left = (k % 2 ? 479 : 0) + 'px';
  cv.style.top = rowTops[Math.floor(k / 2)] + 'px';
  document.body.appendChild(cv);

  new Chart(cv, {
    type: 'bar',
    data: { labels: months.map(m => 'm(' + m + ')'), datasets },
    options: {
      responsive: false,
      animation: false,
      devicePixelRatio: 1,
      layout: { padding: { left: 69, right: 5, top: 42, bottom: 47 } },
      plugins: {
        legend: { display: false },
        tooltip: { enabled: false },
        rStyle: { title: p.title, n: p.n }
      },
      scales: {
        x: { stacked: true, display: false },
        y: { stacked: true, display: false, min: 0, max: 1 }
      }
    },
    plugins: [rStyle]
  });
});

// legend box, filled column by column like the R legend
const legendX = [29, 216, 402, 588, 776];
const legendY = [7, 20, 32];
const legend = document.getElementById('legend');
stateNames.forEach((name, s) => {
  const el = document.createElement('div');
  el.className = 'item';
  el.style.left = legendX[Math.floor(s / 3)] - 3 + 'px';
  el.style.top = legendY[s % 3] + 'px';
  el.innerHTML = '<i style="background:' + stateColors[s] + '"></i>' + name;
  legend.appendChild(el);
});
</script>
</body>
</html>
